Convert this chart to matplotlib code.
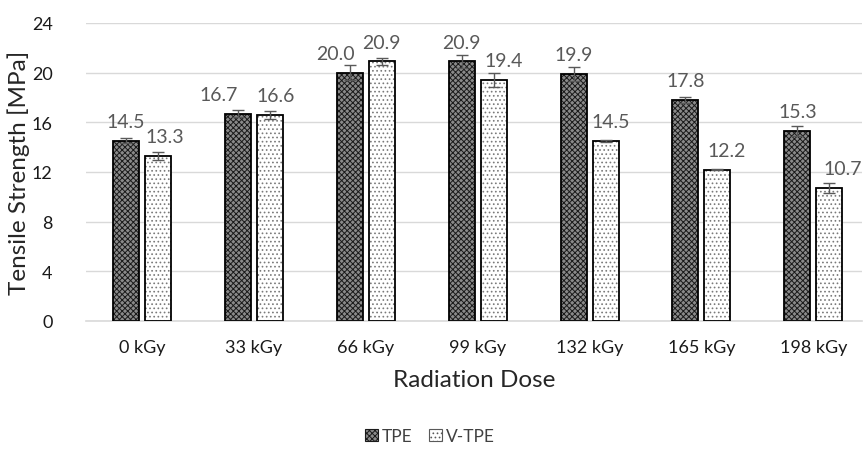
import matplotlib
matplotlib.use('Agg')
import matplotlib.pyplot as plt
from matplotlib.patches import Patch
import numpy as np

# data
doses = ['0 kGy', '33 kGy', '66 kGy', '99 kGy', '132 kGy', '165 kGy', '198 kGy']
tpe = [14.5, 16.7, 20.0, 20.9, 19.9, 17.8, 15.3]
vtpe = [13.3, 16.6, 20.9, 19.4, 14.5, 12.2, 10.7]
tpe_err = [0.2, 0.3, 0.6, 0.55, 0.55, 0.25, 0.4]
vtpe_err = [0.3, 0.35, 0.25, 0.55, 0.1, 0.06, 0.4]

# sideways nudges of the value labels (points), as placed in the original
tpe_lbl_dx = [0, -14, -10, 0, 0, 0, 0]
vtpe_lbl_dx = [5, 4, 0, 7, 4, 7, 10]

plt.rcParams['font.family'] = ['Lato', 'DejaVu Sans']
plt.rcParams['hatch.linewidth'] = 0.7

fig = plt.figure(figsize=(8.65, 4.52), dpi=100, facecolor='white')
ax = fig.add_axes([86 / 865, 1 - 322 / 452, 776 / 865, 298 / 452])

x = np.arange(len(doses))
off = 0.143
w = 0.232

# TPE: dark checkered fill
ax.bar(x - off, tpe, w, color='#8a8a8a', hatch='xxxxxx', edgecolor='#1a1a1a', linewidth=0, zorder=2)
ax.bar(x - off, tpe, w, fill=False, edgecolor='black', linewidth=1.3, zorder=3)
# V-TPE: white with dots
ax.bar(x + off, vtpe, w, color='white', hatch='....', edgecolor='#7a7a7a', linewidth=0, zorder=2)
ax.bar(x + off, vtpe, w, fill=False, edgecolor='black', linewidth=1.3, zorder=3)

ax.errorbar(x - off, tpe, yerr=tpe_err, fmt='none', ecolor='#595959', elinewidth=1, capsize=4, capthick=1, zorder=4)
ax.errorbar(x + off, vtpe, yerr=vtpe_err, fmt='none', ecolor='#595959', elinewidth=1, capsize=4, capthick=1, zorder=4)

for xi, v, dx in zip(x - off, tpe, tpe_lbl_dx):
    ax.annotate(f'{v:.1f}', (xi, v), xytext=(dx, 10), textcoords='offset points',
                ha='center', va='baseline', fontsize=14, color='#595959')
for xi, v, dx in zip(x + off, vtpe, vtpe_lbl_dx):
    ax.annotate(f'{v:.1f}', (xi, v), xytext=(dx, 10), textcoords='offset points',
                ha='center', va='baseline', fontsize=14, color='#595959')

ax.set_xlim(-0.5, 6.435)
ax.set_ylim(0, 24)
ax.set_yticks(np.arange(0, 25, 4))
ax.set_xticks(x)
ax.set_xticklabels(doses)
ax.tick_params(axis='both', length=0, labelsize=13, colors='#1a1a1a')
ax.tick_params(axis='x', pad=13)
ax.tick_params(axis='y', pad=24)
ax.grid(axis='y', color='#d9d9d9', linewidth=1, zorder=0)
ax.set_axisbelow(True)
for s in ['top', 'right', 'left']:
    ax.spines[s].set_visible(False)
ax.spines['bottom'].set_color('#d9d9d9')
ax.spines['bottom'].set_linewidth(1.2)

ax.set_ylabel('Tensile Strength [MPa]', fontsize=17.5, color='#262626')
ax.yaxis.set_label_coords(-56 / 776, 0.5)
ax.set_xlabel('Radiation Dose', fontsize=17.5, color='#262626', labelpad=10)

h1 = Patch(facecolor='#8a8a8a', hatch='xxxxxx', edgecolor='#1a1a1a', linewidth=0.8)
h2 = Patch(facecolor='white', hatch='....', edgecolor='#595959', linewidth=0.8)
fig.legend([h1, h2], ['TPE', 'V-TPE'], loc='center', bbox_to_anchor=(0.497, 1 - 437 / 452),
           ncol=2, frameon=False, fontsize=12.5, handlelength=0.75, handleheight=0.75,
           handletextpad=0.2, columnspacing=1.0, labelcolor='#404040')

fig.savefig('out.png', dpi=100, facecolor='white')
